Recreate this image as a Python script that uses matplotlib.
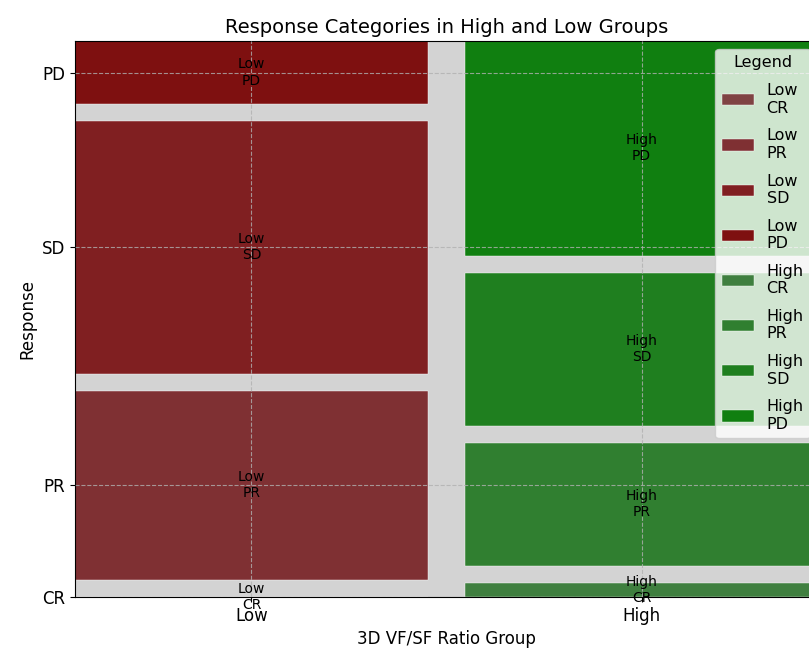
import matplotlib.pyplot as plt
from matplotlib.patches import Rectangle

groups = ['Low', 'High']
responses = ['CR', 'PR', 'SD', 'PD']
low_counts = [0, 6, 8, 2]
high_counts = [1, 8.8, 10.9, 15.3]
low_colors = ['#7f4343', '#7f3033', '#801f21', '#7e1010']
high_colors = ['#3f7f3f', '#307f30', '#1f7f1f', '#107f10']

counts = [low_counts, high_counts]
colors = [low_colors, high_colors]

fig = plt.figure(figsize=(8.09, 6.48), dpi=100)
ax = fig.add_axes([75 / 809, 51 / 648, 743 / 809, 556 / 648])
ax.set_facecolor('lightgray')

xgap = 0.05
ygap = 0.0306
width = (1 - xgap * (len(groups) - 1)) / len(groups)

centers_x = []
low_centers_y = []
for i, g in enumerate(groups):
    x0 = i * (width + xgap)
    centers_x.append(x0 + width / 2)
    total = sum(counts[i])
    avail = 1 - ygap * (len(responses) - 1)
    y = 0
    for j, r in enumerate(responses):
        h = counts[i][j] / total * avail
        ax.add_patch(Rectangle((x0, y), width, h, facecolor=colors[i][j],
                               edgecolor='white', linewidth=0.3, label=f'{g}\n{r}', zorder=1))
        ax.text(x0 + width / 2, y + h / 2, f'{g}\n{r}', ha='center', va='center',
                fontsize=10, zorder=3)
        if i == 0:
            low_centers_y.append(y + h / 2)
        y += h + ygap

ax.set_xlim(0, 1)
ax.set_ylim(0, 1)
ax.set_xticks(centers_x)
ax.set_xticklabels(groups, fontsize=12)
ax.set_yticks(low_centers_y)
ax.set_yticklabels(responses, fontsize=12)
ax.set_axisbelow(False)
ax.grid(True, linestyle='--', color='#b0b0b0', alpha=0.8, linewidth=0.8, zorder=2)

ax.set_title('Response Categories in High and Low Groups', fontsize=14)
ax.set_xlabel('3D VF/SF Ratio Group', fontsize=12)
ax.set_ylabel('Response', fontsize=12)
ax.legend(title='Legend', loc='upper right', fontsize=11.5, title_fontsize=11.5,
          labelspacing=0.8)

fig.savefig('out.png', dpi=100)
